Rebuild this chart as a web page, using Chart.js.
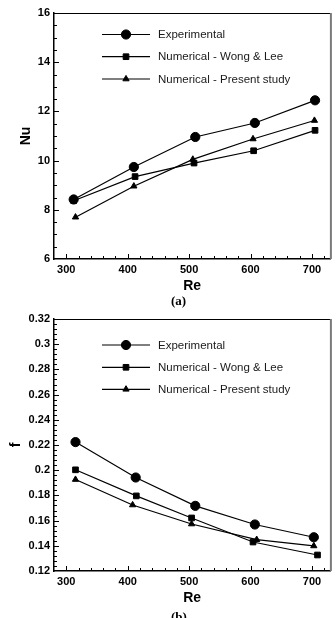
<!DOCTYPE html>
<html><head><meta charset="utf-8">
<script src="https://cdn.jsdelivr.net/npm/chart.js@4/dist/chart.umd.min.js"></script>
<style>
html,body{margin:0;padding:0;background:#fff;}
body{width:336px;height:618px;position:relative;overflow:hidden;}
.wrap{position:absolute;left:0;width:336px;}
canvas{display:block;}
.cap{position:absolute;left:171px;font:bold 13px/13px "Liberation Serif","Times New Roman",serif;color:#000;white-space:nowrap;}
</style></head><body>
<div class="wrap" style="top:0;height:306px"><canvas id="c1" width="336" height="306"></canvas></div>
<div class="wrap" style="top:306px;height:312px"><canvas id="c2" width="336" height="312"></canvas></div>
<div class="cap" style="top:294px">(a)</div>
<div class="cap" style="top:610px">(b)</div>
<script>
// ---- data ----
const seriesNames = ['Experimental', 'Numerical - Wong & Lee', 'Numerical - Present study'];
const reTicks = [300, 400, 500, 600, 700];
const nuTicks = [6, 8, 10, 12, 14, 16];
const fTicks = [0.12, 0.14, 0.16, 0.18, 0.2, 0.22, 0.24, 0.26, 0.28, 0.3, 0.32];

// (a) Nu vs Re
const nuReExp = [312, 410, 510, 607, 705];
const nuExp = [8.42, 9.74, 10.96, 11.53, 12.45];
const nuReWong = [312, 412, 508, 605, 705];
const nuWong = [8.37, 9.35, 9.90, 10.40, 11.23];
const nuRePres = [315, 410, 506, 604, 704];
const nuPres = [7.70, 8.96, 10.05, 10.88, 11.63];

// (b) f vs Re
const fReExp = [315, 413, 510, 607, 703];
const fExp = [0.2223, 0.1942, 0.1717, 0.1569, 0.1468];
const fReWong = [315, 414, 504, 604, 709];
const fWong = [0.2003, 0.1796, 0.1621, 0.1430, 0.1327];
const fRePres = [315, 408, 504, 610, 703];
const fPres = [0.1926, 0.1724, 0.1573, 0.1449, 0.1399];

// ---- helpers ----
Chart.defaults.font.family = '"Liberation Sans", Arial, sans-serif';
Chart.defaults.color = '#000';

const pts = (xs, ys) => xs.map((x, i) => ({x: x, y: ys[i]}));
const styles = [
  {pointStyle: 'circle', pointRadius: 4.6},
  {pointStyle: 'rect', pointRadius: 4},
  {pointStyle: 'triangle', pointRadius: 3.6}
];

function drawMarker(ctx, style, r, x, y) {
  ctx.beginPath();
  if (style === 'circle') {
    ctx.arc(x, y, r, 0, Math.PI * 2);
  } else if (style === 'rect') {
    const s = Math.SQRT1_2 * r;
    ctx.rect(x - s, y - s, 2 * s, 2 * s);
  } else {
    ctx.moveTo(x, y - r);
    ctx.lineTo(x + r * 0.866, y + r * 0.5);
    ctx.lineTo(x - r * 0.866, y + r * 0.5);
    ctx.closePath();
  }
  ctx.fill();
  ctx.stroke();
}

const frameTicks = {
  id: 'frameTicks',
  beforeDatasetsDraw(chart, args, opts) {
    const {ctx, chartArea: a, scales: {x, y}} = chart;
    ctx.save();
    ctx.strokeStyle = '#000';
    ctx.lineWidth = 1;
    const majX = opts.xMajor, majY = opts.yMajor;
    const isMaj = (v, arr, step) => arr.some(m => Math.abs(m - v) < step * 1e-3);
    for (let n = Math.ceil(x.min / opts.xMinor); n * opts.xMinor <= x.max + 1e-9; n++) {
      const v = n * opts.xMinor;
      const len = isMaj(v, majX, opts.xMinor) ? 5 : 3;
      const px = Math.round(x.getPixelForValue(v)) + 0.5;
      if (px <= a.left + 1 || px >= a.right - 1) continue;
      ctx.beginPath(); ctx.moveTo(px, a.bottom); ctx.lineTo(px, a.bottom - len); ctx.stroke();
    }
    for (let n = Math.ceil(y.min / opts.yMinor - 1e-6); n * opts.yMinor <= y.max + 1e-9; n++) {
      const v = n * opts.yMinor;
      const len = isMaj(v, majY, opts.yMinor) ? 5 : 3;
      const py = Math.round(y.getPixelForValue(v)) + 0.5;
      if (py >= a.bottom - 1) continue;
      ctx.beginPath(); ctx.moveTo(a.left, py); ctx.lineTo(a.left + len, py); ctx.stroke();
    }
    ctx.beginPath(); ctx.moveTo(a.left, a.top + 0.5); ctx.lineTo(a.right, a.top + 0.5); ctx.stroke();
    ctx.strokeStyle = '#7a7a7a';
    ctx.lineWidth = 2;
    ctx.beginPath(); ctx.moveTo(a.right + 0.5, a.top); ctx.lineTo(a.right + 0.5, a.bottom); ctx.stroke();
    ctx.restore();
  }
};

const insideLegend = {
  id: 'insideLegend',
  afterDraw(chart, args, opts) {
    const ctx = chart.ctx;
    ctx.save();
    ctx.font = '11.5px "Liberation Sans", Arial, sans-serif';
    ctx.textBaseline = 'middle';
    ctx.textAlign = 'left';
    chart.data.datasets.forEach((ds, i) => {
      const yy = opts.rows[i];
      ctx.strokeStyle = '#000';
      ctx.fillStyle = '#000';
      ctx.lineWidth = 1.2;
      ctx.beginPath(); ctx.moveTo(opts.x0, yy); ctx.lineTo(opts.x1, yy); ctx.stroke();
      ctx.lineWidth = 1;
      drawMarker(ctx, ds.pointStyle, ds.pointRadius, (opts.x0 + opts.x1) / 2, yy);
      ctx.fillStyle = '#1a1a1a';
      ctx.fillText(ds.label, opts.textX, yy + 0.5);
    });
    ctx.restore();
  }
};

function makeDatasets(list) {
  return list.map((d, i) => Object.assign({
    label: seriesNames[i],
    data: d,
    showLine: true,
    borderColor: '#000',
    backgroundColor: '#000',
    pointBackgroundColor: '#000',
    pointBorderColor: '#000',
    pointBorderWidth: 1,
    borderWidth: 1.2,
    clip: false
  }, styles[i]));
}

function makeChart(id, datasets, cfg) {
  return new Chart(document.getElementById(id), {
    type: 'scatter',
    data: {datasets: makeDatasets(datasets)},
    plugins: [frameTicks, insideLegend],
    options: {
      responsive: false,
      animation: false,
      events: [],
      layout: {padding: {top: 13, right: 3, bottom: 0, left: 0}},
      plugins: {
        legend: {display: false},
        tooltip: {enabled: false},
        frameTicks: {xMinor: 20, yMinor: cfg.yMinor, xMajor: reTicks, yMajor: cfg.yTicks},
        insideLegend: {x0: 102, x1: 150, textX: 158, rows: cfg.legendRows}
      },
      scales: {
        x: {
          type: 'linear', min: 280, max: 730,
          afterBuildTicks: s => { s.ticks = reTicks.map(v => ({value: v})); },
          afterFit: s => { s.height = 47; },
          grid: {display: false, drawTicks: false},
          border: {display: true, color: '#000', width: 1.5},
          ticks: {font: {size: 11, weight: 'bold'}, padding: 4, maxRotation: 0, color: '#000'},
          title: {display: true, text: 'Re', font: {size: 14, weight: 'bold'}, padding: {top: 0, bottom: 11}, color: '#000'}
        },
        y: {
          type: 'linear', min: cfg.yMin, max: cfg.yMax,
          afterBuildTicks: s => { s.ticks = cfg.yTicks.map(v => ({value: v})); },
          afterFit: s => { s.width = 54; },
          grid: {display: false, drawTicks: false},
          border: {display: true, color: '#000', width: 1.5},
          ticks: {font: {size: 11, weight: 'bold'}, padding: 4, color: '#000', callback: v => String(v)},
          title: {display: true, text: cfg.yTitle, font: {size: 14, weight: 'bold'}, padding: {top: cfg.yTitlePad, bottom: 0}, color: '#000'}
        }
      }
    }
  });
}

makeChart('c1', [pts(nuReExp, nuExp), pts(nuReWong, nuWong), pts(nuRePres, nuPres)], {
  yMin: 6, yMax: 16, yTicks: nuTicks, yMinor: 0.5, yTitle: 'Nu', yTitlePad: 17.6,
  legendRows: [34.5, 56.7, 79]
});
makeChart('c2', [pts(fReExp, fExp), pts(fReWong, fWong), pts(fRePres, fPres)], {
  yMin: 0.12, yMax: 0.32, yTicks: fTicks, yMinor: 0.004, yTitle: 'f', yTitlePad: 7.6,
  legendRows: [39, 61.3, 83.3]
});
</script>
</body></html>
